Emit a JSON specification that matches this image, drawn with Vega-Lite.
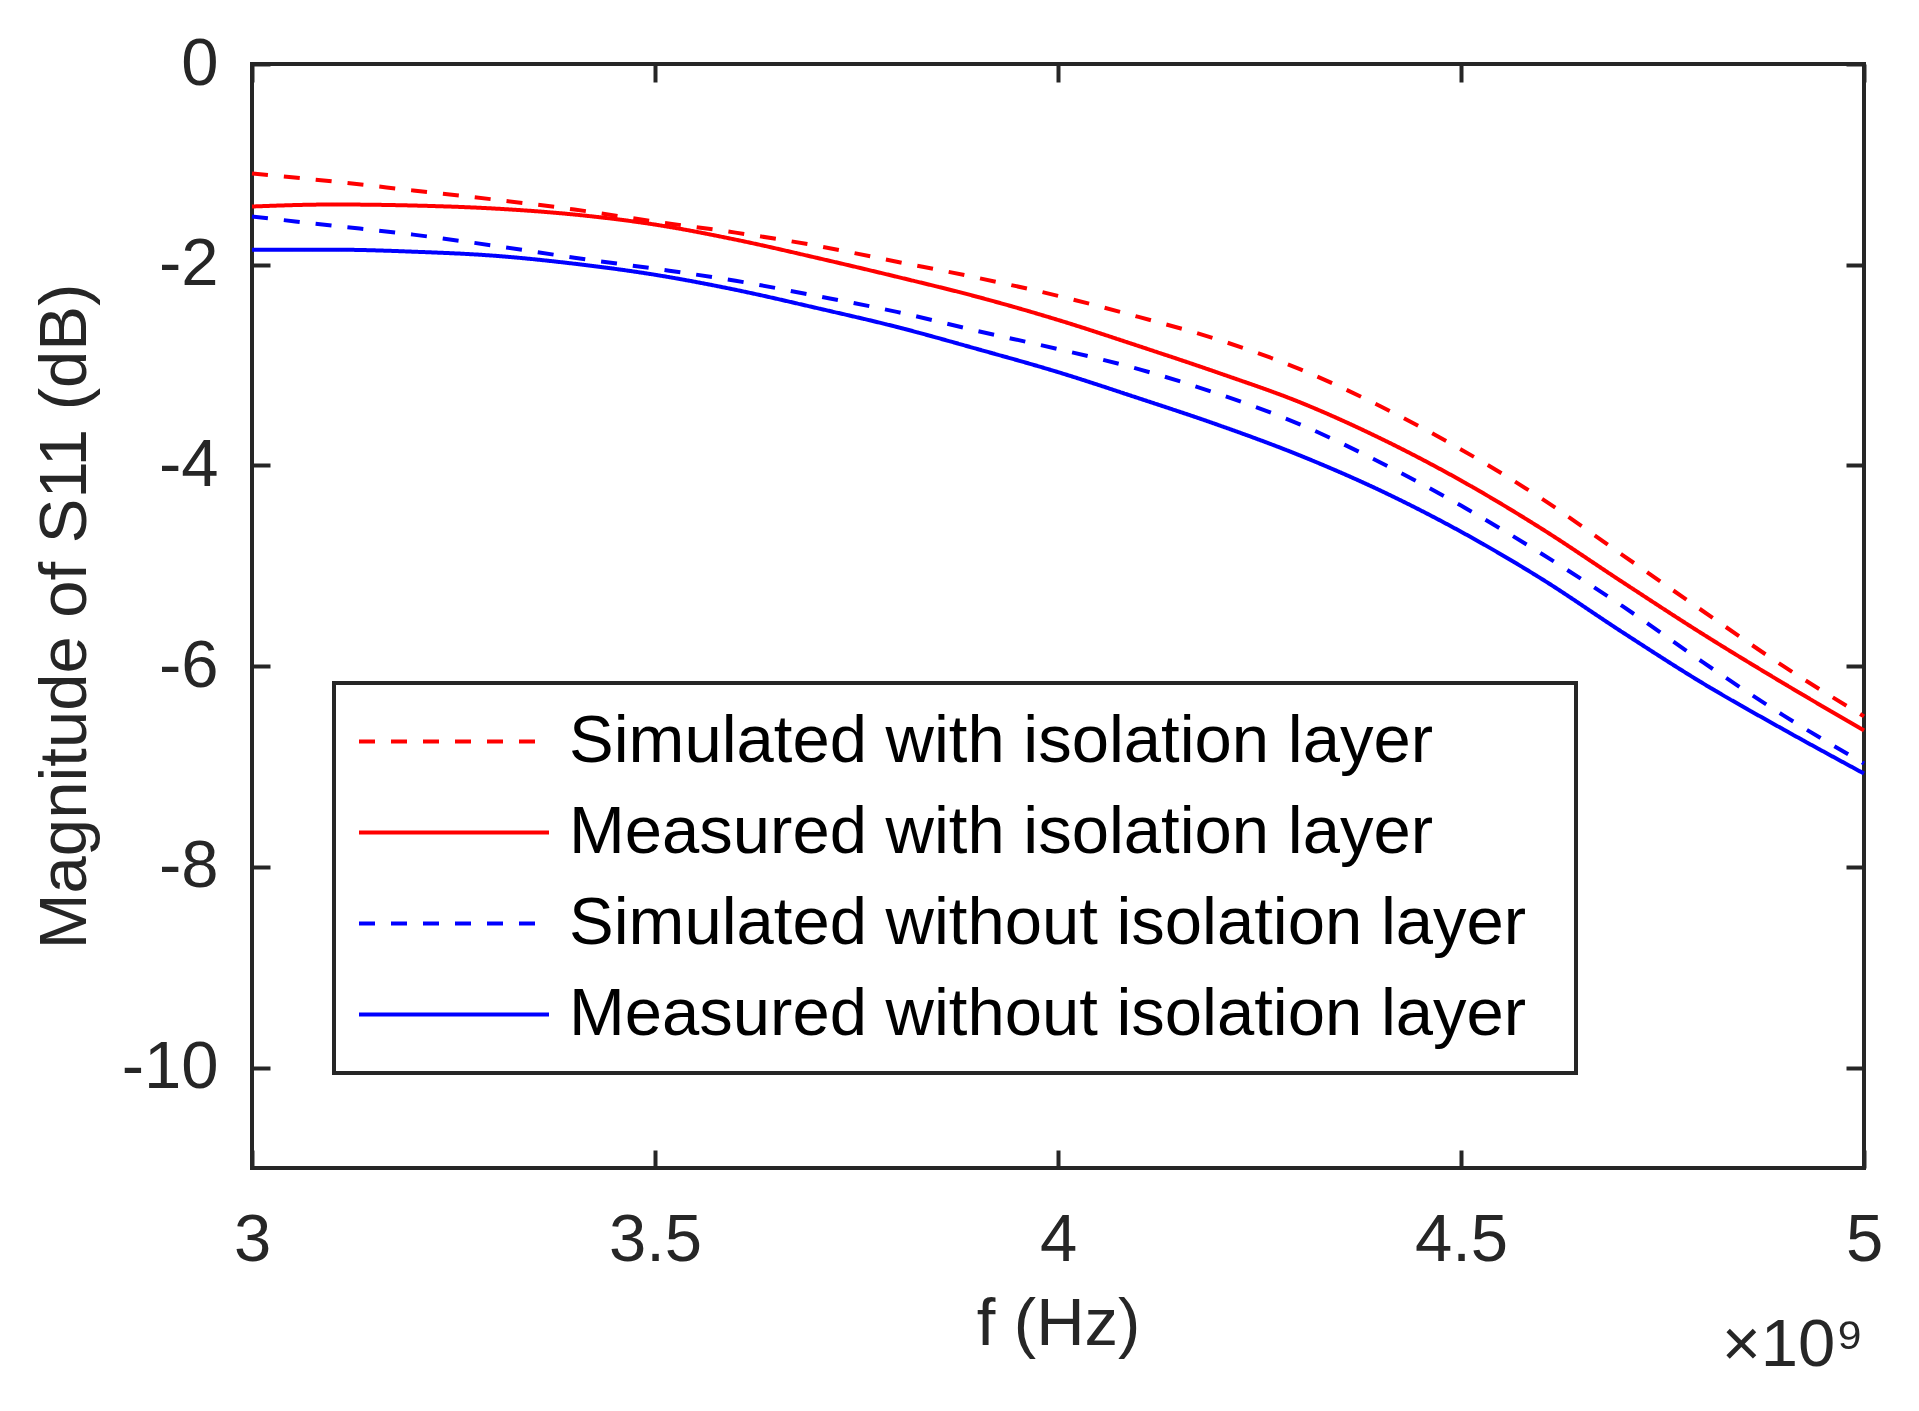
{
  "$schema": "https://vega.github.io/schema/vega-lite/v6.json",
  "width": 1612,
  "height": 1104,
  "autosize": "none",
  "padding": {"left": 252, "top": 64, "right": 55, "bottom": 243},
  "background": "white",
  "title": {
    "text": "×10⁹",
    "orient": "bottom",
    "anchor": "end",
    "frame": "group",
    "baseline": "alphabetic",
    "offset": 9,
    "fontSize": 67,
    "font": "Liberation Sans",
    "fontWeight": "normal",
    "color": "#262626"
  },
  "data": {
    "values": [
      {"f": 3.0e9, "s11": -1.09, "series": "Simulated with isolation layer"},
      {"f": 3.1e9, "s11": -1.17, "series": "Simulated with isolation layer"},
      {"f": 3.2e9, "s11": -1.26, "series": "Simulated with isolation layer"},
      {"f": 3.3e9, "s11": -1.35, "series": "Simulated with isolation layer"},
      {"f": 3.4e9, "s11": -1.45, "series": "Simulated with isolation layer"},
      {"f": 3.5e9, "s11": -1.57, "series": "Simulated with isolation layer"},
      {"f": 3.6e9, "s11": -1.68, "series": "Simulated with isolation layer"},
      {"f": 3.7e9, "s11": -1.81, "series": "Simulated with isolation layer"},
      {"f": 3.8e9, "s11": -1.97, "series": "Simulated with isolation layer"},
      {"f": 3.9e9, "s11": -2.13, "series": "Simulated with isolation layer"},
      {"f": 4.0e9, "s11": -2.31, "series": "Simulated with isolation layer"},
      {"f": 4.1e9, "s11": -2.52, "series": "Simulated with isolation layer"},
      {"f": 4.2e9, "s11": -2.75, "series": "Simulated with isolation layer"},
      {"f": 4.3e9, "s11": -3.04, "series": "Simulated with isolation layer"},
      {"f": 4.4e9, "s11": -3.41, "series": "Simulated with isolation layer"},
      {"f": 4.5e9, "s11": -3.84, "series": "Simulated with isolation layer"},
      {"f": 4.6e9, "s11": -4.33, "series": "Simulated with isolation layer"},
      {"f": 4.7e9, "s11": -4.89, "series": "Simulated with isolation layer"},
      {"f": 4.8e9, "s11": -5.45, "series": "Simulated with isolation layer"},
      {"f": 4.9e9, "s11": -6.00, "series": "Simulated with isolation layer"},
      {"f": 5.0e9, "s11": -6.50, "series": "Simulated with isolation layer"},

      {"f": 3.0e9, "s11": -1.42, "series": "Measured with isolation layer"},
      {"f": 3.1e9, "s11": -1.40, "series": "Measured with isolation layer"},
      {"f": 3.2e9, "s11": -1.41, "series": "Measured with isolation layer"},
      {"f": 3.3e9, "s11": -1.44, "series": "Measured with isolation layer"},
      {"f": 3.4e9, "s11": -1.50, "series": "Measured with isolation layer"},
      {"f": 3.5e9, "s11": -1.60, "series": "Measured with isolation layer"},
      {"f": 3.6e9, "s11": -1.75, "series": "Measured with isolation layer"},
      {"f": 3.7e9, "s11": -1.93, "series": "Measured with isolation layer"},
      {"f": 3.8e9, "s11": -2.12, "series": "Measured with isolation layer"},
      {"f": 3.9e9, "s11": -2.32, "series": "Measured with isolation layer"},
      {"f": 4.0e9, "s11": -2.55, "series": "Measured with isolation layer"},
      {"f": 4.1e9, "s11": -2.81, "series": "Measured with isolation layer"},
      {"f": 4.2e9, "s11": -3.08, "series": "Measured with isolation layer"},
      {"f": 4.3e9, "s11": -3.37, "series": "Measured with isolation layer"},
      {"f": 4.4e9, "s11": -3.73, "series": "Measured with isolation layer"},
      {"f": 4.5e9, "s11": -4.15, "series": "Measured with isolation layer"},
      {"f": 4.6e9, "s11": -4.63, "series": "Measured with isolation layer"},
      {"f": 4.7e9, "s11": -5.16, "series": "Measured with isolation layer"},
      {"f": 4.8e9, "s11": -5.68, "series": "Measured with isolation layer"},
      {"f": 4.9e9, "s11": -6.17, "series": "Measured with isolation layer"},
      {"f": 5.0e9, "s11": -6.64, "series": "Measured with isolation layer"},

      {"f": 3.0e9, "s11": -1.52, "series": "Simulated without isolation layer"},
      {"f": 3.1e9, "s11": -1.61, "series": "Simulated without isolation layer"},
      {"f": 3.2e9, "s11": -1.70, "series": "Simulated without isolation layer"},
      {"f": 3.3e9, "s11": -1.81, "series": "Simulated without isolation layer"},
      {"f": 3.4e9, "s11": -1.93, "series": "Simulated without isolation layer"},
      {"f": 3.5e9, "s11": -2.04, "series": "Simulated without isolation layer"},
      {"f": 3.6e9, "s11": -2.16, "series": "Simulated without isolation layer"},
      {"f": 3.7e9, "s11": -2.31, "series": "Simulated without isolation layer"},
      {"f": 3.8e9, "s11": -2.47, "series": "Simulated without isolation layer"},
      {"f": 3.9e9, "s11": -2.66, "series": "Simulated without isolation layer"},
      {"f": 4.0e9, "s11": -2.84, "series": "Simulated without isolation layer"},
      {"f": 4.1e9, "s11": -3.04, "series": "Simulated without isolation layer"},
      {"f": 4.2e9, "s11": -3.29, "series": "Simulated without isolation layer"},
      {"f": 4.3e9, "s11": -3.59, "series": "Simulated without isolation layer"},
      {"f": 4.4e9, "s11": -3.97, "series": "Simulated without isolation layer"},
      {"f": 4.5e9, "s11": -4.40, "series": "Simulated without isolation layer"},
      {"f": 4.6e9, "s11": -4.88, "series": "Simulated without isolation layer"},
      {"f": 4.7e9, "s11": -5.40, "series": "Simulated without isolation layer"},
      {"f": 4.8e9, "s11": -5.96, "series": "Simulated without isolation layer"},
      {"f": 4.9e9, "s11": -6.49, "series": "Simulated without isolation layer"},
      {"f": 5.0e9, "s11": -6.97, "series": "Simulated without isolation layer"},

      {"f": 3.0e9, "s11": -1.85, "series": "Measured without isolation layer"},
      {"f": 3.1e9, "s11": -1.85, "series": "Measured without isolation layer"},
      {"f": 3.2e9, "s11": -1.87, "series": "Measured without isolation layer"},
      {"f": 3.3e9, "s11": -1.91, "series": "Measured without isolation layer"},
      {"f": 3.4e9, "s11": -1.99, "series": "Measured without isolation layer"},
      {"f": 3.5e9, "s11": -2.10, "series": "Measured without isolation layer"},
      {"f": 3.6e9, "s11": -2.25, "series": "Measured without isolation layer"},
      {"f": 3.7e9, "s11": -2.43, "series": "Measured without isolation layer"},
      {"f": 3.8e9, "s11": -2.62, "series": "Measured without isolation layer"},
      {"f": 3.9e9, "s11": -2.84, "series": "Measured without isolation layer"},
      {"f": 4.0e9, "s11": -3.07, "series": "Measured without isolation layer"},
      {"f": 4.1e9, "s11": -3.33, "series": "Measured without isolation layer"},
      {"f": 4.2e9, "s11": -3.60, "series": "Measured without isolation layer"},
      {"f": 4.3e9, "s11": -3.90, "series": "Measured without isolation layer"},
      {"f": 4.4e9, "s11": -4.25, "series": "Measured without isolation layer"},
      {"f": 4.5e9, "s11": -4.66, "series": "Measured without isolation layer"},
      {"f": 4.6e9, "s11": -5.13, "series": "Measured without isolation layer"},
      {"f": 4.7e9, "s11": -5.66, "series": "Measured without isolation layer"},
      {"f": 4.8e9, "s11": -6.17, "series": "Measured without isolation layer"},
      {"f": 4.9e9, "s11": -6.63, "series": "Measured without isolation layer"},
      {"f": 5.0e9, "s11": -7.07, "series": "Measured without isolation layer"}
    ]
  },
  "layer": [
    {
      "mark": {"type": "line", "strokeWidth": 4, "interpolate": "monotone"},
      "encoding": {
        "x": {
          "field": "f",
          "type": "quantitative",
          "scale": {"domain": [3e9, 5e9], "nice": false, "zero": false},
          "axis": {
            "orient": "bottom",
            "title": "f (Hz)",
            "values": [3e9, 3.5e9, 4e9, 4.5e9, 5e9],
            "labelExpr": "toString(datum.value / 1e9)",
            "labelFlush": false,
            "labelPadding": 57,
            "titlePadding": 18
          }
        },
        "y": {
          "field": "s11",
          "type": "quantitative",
          "scale": {"domain": [-11, 0], "nice": false, "zero": false},
          "axis": {
            "orient": "left",
            "title": "Magnitude of S11 (dB)",
            "values": [-10, -8, -6, -4, -2, 0],
            "labelExpr": "toString(datum.value)",
            "labelPadding": 52,
            "titlePadding": 22
          }
        },
        "color": {
          "field": "series",
          "type": "nominal",
          "scale": {
            "domain": [
              "Simulated with isolation layer",
              "Measured with isolation layer",
              "Simulated without isolation layer",
              "Measured without isolation layer"
            ],
            "range": ["#ff0000", "#ff0000", "#0000ff", "#0000ff"]
          },
          "legend": {"title": null, "labelExpr": "datum.label + '\u00a0\u200a\u2060'"}
        },
        "strokeDash": {
          "field": "series",
          "type": "nominal",
          "scale": {
            "domain": [
              "Simulated with isolation layer",
              "Measured with isolation layer",
              "Simulated without isolation layer",
              "Measured without isolation layer"
            ],
            "range": [[16, 16], [1, 0], [16, 16], [1, 0]]
          },
          "legend": {"title": null, "labelExpr": "datum.label + '\u00a0\u200a\u2060'"}
        }
      }
    },
    {
      "mark": {"type": "point", "opacity": 0},
      "encoding": {
        "x": {
          "field": "f",
          "type": "quantitative",
          "axis": {"orient": "top", "title": null, "labels": false, "values": [3e9, 3.5e9, 4e9, 4.5e9, 5e9]}
        },
        "y": {
          "field": "s11",
          "type": "quantitative",
          "axis": {"orient": "right", "title": null, "labels": false, "values": [-10, -8, -6, -4, -2, 0]}
        }
      }
    }
  ],
  "resolve": {"axis": {"x": "independent", "y": "independent"}},
  "config": {
    "font": "Liberation Sans",
    "view": {"stroke": "#262626", "strokeWidth": 4},
    "axis": {
      "domain": false,
      "grid": false,
      "tickSize": -18,
      "tickWidth": 4,
      "tickColor": "#262626",
      "labelFont": "Liberation Sans",
      "labelFontSize": 67,
      "labelColor": "#262626",
      "titleFont": "Liberation Sans",
      "titleFontSize": 67,
      "titleFontWeight": "normal",
      "titleColor": "#262626"
    },
    "legend": {
      "orient": "none",
      "legendX": 82,
      "legendY": 619,
      "padding": 25,
      "strokeColor": "#262626",
      "strokeWidth": 4,
      "fillColor": "white",
      "symbolType": "M-1,0H19",
      "symbolSize": 361,
      "symbolStrokeWidth": 4,
      "symbolOffset": -24,
      "labelOffset": 167,
      "labelFont": "Liberation Sans",
      "labelFontSize": 67,
      "labelColor": "black",
      "labelLimit": 0,
      "rowPadding": 23
    }
  }
}
